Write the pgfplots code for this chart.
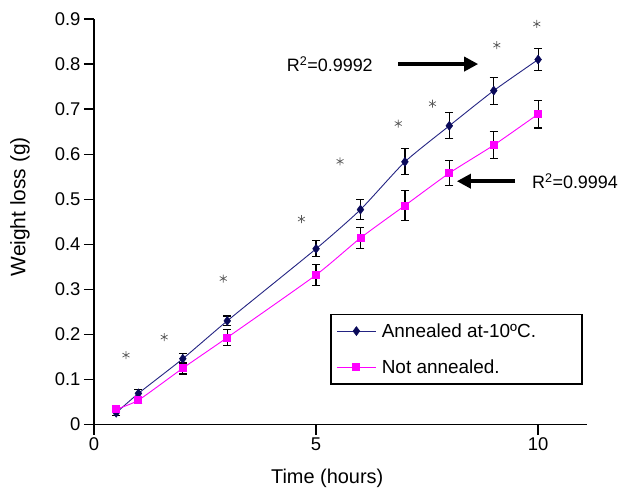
\documentclass[border=0pt]{standalone}
\usepackage{pgfplots}
\pgfplotsset{compat=1.18}
\usepackage{fontspec}
\setmainfont{Liberation Sans}
\usetikzlibrary{arrows.meta}
\definecolor{navyline}{RGB}{35,35,130}
\definecolor{navymark}{RGB}{10,10,90}
\definecolor{pinkline}{RGB}{255,0,255}
\definecolor{stargray}{RGB}{90,90,90}

\begin{document}
\begin{tikzpicture}
\begin{axis}[
    scale only axis,
    width=493bp, height=405.5bp,
    xmin=0, xmax=11.1,
    ymin=0, ymax=0.9,
    clip=false,
    axis x line*=bottom,
    axis y line*=left,
    axis line style={line width=1.3bp, black},
    xtick={0,5,10},
    ytick={0,0.1,0.2,0.3,0.4,0.5,0.6,0.7,0.8,0.9},
    yticklabel style={/pgf/number format/fixed, /pgf/number format/precision=1},
    /pgf/number format/assume math mode=true,
    tick align=outside,
    major tick length=10bp,
    tick style={line width=1.3bp, black},
    ticklabel style={font=\fontsize{18.5}{18.5}\selectfont},
    xlabel={Time (hours)},
    ylabel={Weight loss (g)},
    xlabel style={font=\fontsize{20}{20}\selectfont,
        at={(axis description cs:0.473,-0.134)}, anchor=center},
    ylabel style={font=\fontsize{21}{21}\selectfont,
        at={(axis description cs:-0.15,0.537)}, anchor=center},
    legend style={
        at={(axis cs:5.32,0.2456)}, anchor=north west,
        draw=black, line width=1.3bp,
        font=\fontsize{19}{19}\selectfont,
        row sep=17bp, column sep=4bp, inner xsep=6bp, inner ysep=7bp,
        cells={anchor=west},
    },
    legend image code/.code={
        \draw[mark repeat=2, mark phase=2, #1]
            plot coordinates {(0bp,0bp) (19bp,0bp) (38bp,0bp)};
    },
]

% annealed at -10 C
\addplot[
    navyline, line width=0.9bp,
    smooth, tension=0.35,
    mark=diamond*, mark size=4.5bp,
    mark options={navymark, fill=navymark, line width=0.5bp},
    error bars/.cd, y dir=both, y explicit,
    error bar style={black, line width=1.2bp},
    error mark options={rotate=90, mark size=4bp, black, line width=1.2bp},
    ]
    coordinates {
    (0.5,0.026) +- (0,0.006)
    (1,0.069) +- (0,0.009)
    (2,0.146) +- (0,0.011)
    (3,0.230) +- (0,0.011)
    (5,0.390) +- (0,0.018)
    (6,0.477) +- (0,0.022)
    (7,0.583) +- (0,0.029)
    (8,0.663) +- (0,0.029)
    (9,0.741) +- (0,0.030)
    (10,0.810) +- (0,0.025)
    };
    \addlegendentry{Annealed at-10ºC.\hspace*{38bp}}

% not annealed
\addplot[
    pinkline, line width=0.9bp,
    smooth, tension=0.35,
    mark=square*, mark size=3.5bp,
    mark options={pinkline, fill=pinkline},
    error bars/.cd, y dir=both, y explicit,
    error bar style={black, line width=1.2bp},
    error mark options={rotate=90, mark size=4bp, black, line width=1.2bp},
    ]
    coordinates {
    (0.5,0.034) +- (0,0.005)
    (1,0.054) +- (0,0.008)
    (2,0.125) +- (0,0.013)
    (3,0.193) +- (0,0.018)
    (5,0.332) +- (0,0.023)
    (6,0.414) +- (0,0.024)
    (7,0.486) +- (0,0.033)
    (8,0.558) +- (0,0.028)
    (9,0.620) +- (0,0.030)
    (10,0.689) +- (0,0.031)
    };
    \addlegendentry{Not annealed.}

% significance stars
\addplot[only marks, forget plot, mark=asterisk, mark size=4bp,
    mark options={stargray, line width=0.7bp}]
    coordinates {
    (0.72,0.154) (1.58,0.194) (2.91,0.324) (4.67,0.456) (5.54,0.584)
    (6.85,0.668) (7.62,0.712) (9.07,0.842) (9.97,0.889)
    };

\draw[line width=4bp, -{Triangle[length=14bp,width=14bp]}]
    (axis cs:6.85,0.8) -- (axis cs:8.65,0.8);
\node[anchor=east, inner sep=0pt, font=\fontsize{18}{18}\selectfont]
    at (axis cs:6.28,0.8) {R\textsuperscript{2}=0.9992};
\draw[line width=4bp, -{Triangle[length=14bp,width=14bp]}]
    (axis cs:9.48,0.54) -- (axis cs:8.17,0.54);
\node[anchor=west, inner sep=0pt, font=\fontsize{18}{18}\selectfont]
    at (axis cs:9.86,0.54) {R\textsuperscript{2}=0.9994};

\end{axis}
\pgfresetboundingbox
\path ([xshift=-94bp,yshift=-67.5bp]current axis.south west)
    rectangle ([xshift=34bp,yshift=19bp]current axis.north east);
\end{tikzpicture}
\end{document}
